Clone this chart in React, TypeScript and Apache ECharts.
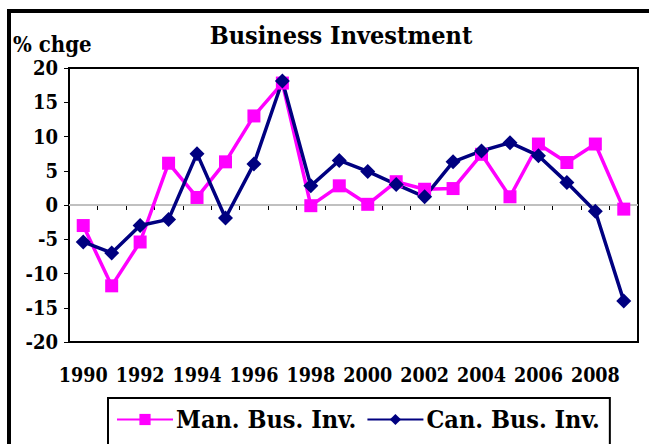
import React, { useEffect, useRef } from "react";
import * as echarts from "echarts";

const years = ["1990","1991","1992","1993","1994","1995","1996","1997","1998","1999","2000","2001","2002","2003","2004","2005","2006","2007","2008","2009"];
const manBusInv = [-3.0, -11.8, -5.4, 6.1, 1.1, 6.3, 13.0, 17.8, -0.1, 2.8, 0.1, 3.4, 2.3, 2.4, 7.4, 1.2, 8.9, 6.2, 8.9, -0.6];
const canBusInv = [-5.4, -7.0, -3.0, -2.1, 7.5, -1.9, 6.0, 18.1, 2.8, 6.5, 4.9, 3.0, 1.2, 6.3, 7.9, 9.1, 7.2, 3.3, -0.9, -14.0];
const seriesNames = ["Man. Bus. Inv.", "Can. Bus. Inv."];
const titleText = "Business Investment";
const yAxisTitle = "% chge";

const FONT = "'DejaVu Serif Condensed', 'DejaVu Serif', serif";

export default function App() {
  const ref = useRef<HTMLDivElement>(null);
  useEffect(() => {
    if (!ref.current) return;
    const chart = echarts.init(ref.current, undefined, { renderer: "svg" });
    chart.setOption({
      animation: false,
      backgroundColor: "#fff",
      textStyle: { fontFamily: FONT },
      grid: { left: 69, right: 11, top: 68, bottom: 102, show: true, borderColor: "#000", borderWidth: 2, backgroundColor: "transparent" },
      graphic: [
        { type: "rect", shape: { x: 9, y: 11, width: 700, height: 500 }, style: { fill: "none", stroke: "#000", lineWidth: 4 }, z: 10 },
        { type: "text", x: 341, y: 23, style: { text: titleText, textAlign: "center", font: `bold 25px ${FONT}`, fill: "#000" } },
        { type: "text", x: 13, y: 33, style: { text: yAxisTitle, textAlign: "left", font: `bold 22px ${FONT}`, fill: "#000" } },
      ],
      legend: {
        top: 398,
        left: 108,
        width: 520,
        data: seriesNames,
        borderColor: "#000",
        borderWidth: 2,
        padding: [9, 10, 40, 8],
        itemWidth: 56,
        itemHeight: 14,
        itemGap: 10,
        textStyle: { fontFamily: FONT, fontWeight: "bold", fontSize: 25, color: "#000", padding: [0, 0, 0, -2] },
      },
      xAxis: {
        type: "category",
        data: years,
        boundaryGap: true,
        axisLine: { lineStyle: { color: "#000", width: 2 } },
        axisTick: { show: true, interval: 0, length: 5, lineStyle: { color: "#000", width: 1 } },
        axisLabel: { interval: 1, color: "#000", fontFamily: FONT, fontWeight: "bold", fontSize: 19.5, margin: 23 },
        splitLine: { show: false },
      },
      yAxis: {
        type: "value",
        min: -20,
        max: 20,
        interval: 5,
        axisLine: { show: true, lineStyle: { color: "#000", width: 2 } },
        axisTick: { show: true, length: 5, lineStyle: { color: "#000", width: 1 } },
        axisLabel: { color: "#000", fontFamily: FONT, fontWeight: "bold", fontSize: 20, margin: 11 },
        splitLine: { show: false },
      },
      series: [
        {
          name: seriesNames[0],
          type: "line",
          data: manBusInv,
          color: "#FF00FF",
          symbol: "rect",
          symbolSize: 13,
          lineStyle: { width: 3.5, color: "#FF00FF" },
          itemStyle: { color: "#FF00FF" },
          markLine: {
            silent: true,
            symbol: "none",
            label: { show: false },
            lineStyle: { color: "#C0C0C0", width: 2, type: "solid" },
            data: [{ yAxis: 0 }],
            z: 1,
          },
        },
        {
          name: seriesNames[1],
          type: "line",
          data: canBusInv,
          color: "#000080",
          symbol: "diamond",
          symbolSize: 15,
          lineStyle: { width: 3.5, color: "#000080" },
          itemStyle: { color: "#000080" },
        },
      ],
    });
    return () => chart.dispose();
  }, []);
  return <div ref={ref} style={{ position: "fixed", left: 0, top: 0, width: 649, height: 444 }} />;
}
